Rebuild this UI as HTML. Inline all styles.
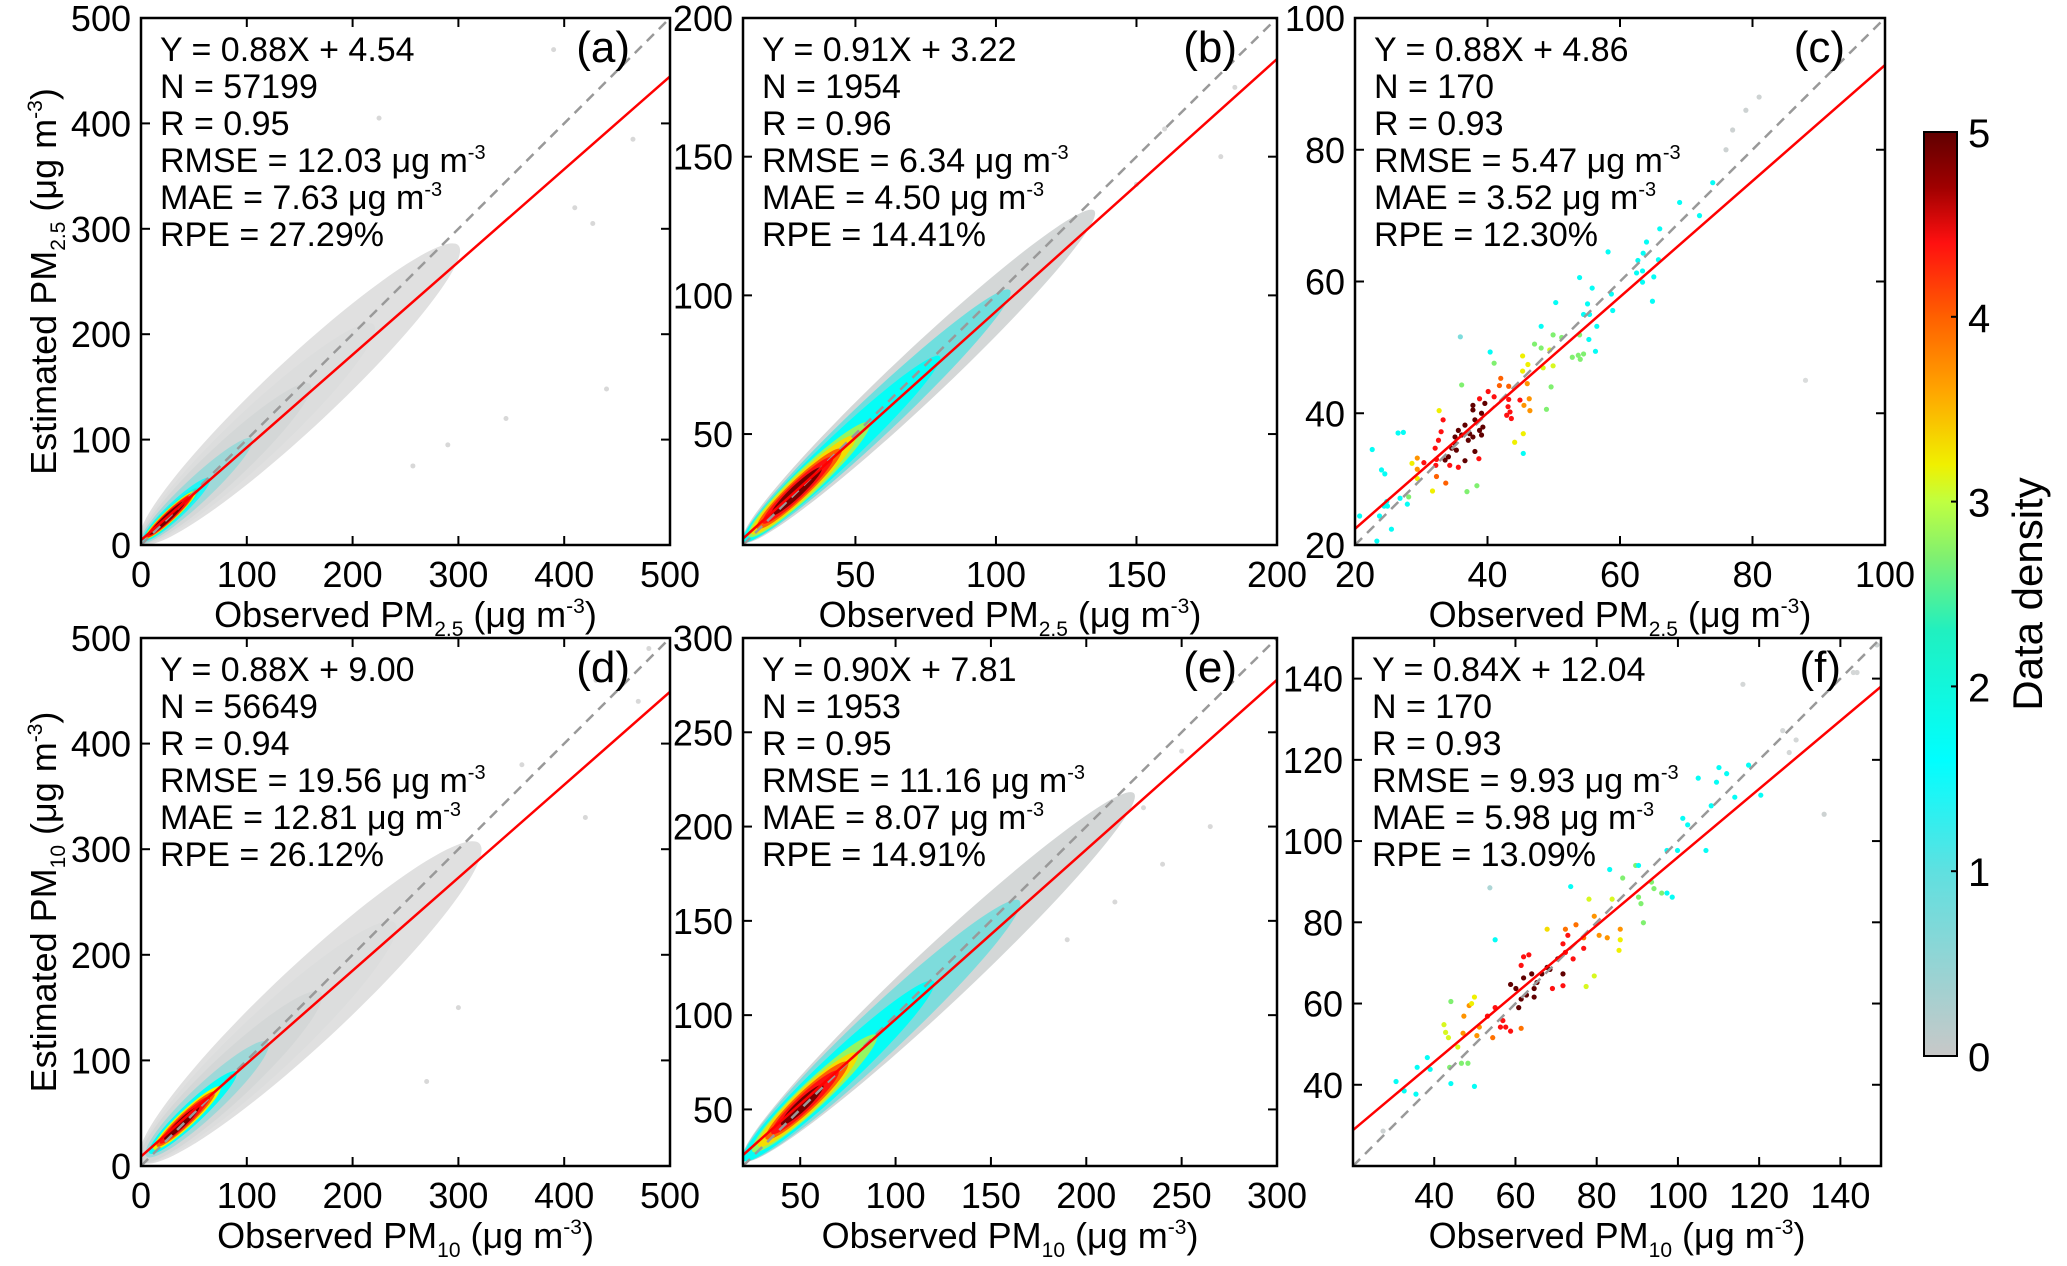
<!DOCTYPE html>
<html><head><meta charset="utf-8"><style>
html,body{margin:0;padding:0;background:#fff;}
svg{display:block;font-family:"Liberation Sans",Arial,sans-serif;}
</style></head><body>
<svg id="chart" width="2067" height="1266" viewBox="0 0 2067 1266" xmlns="http://www.w3.org/2000/svg">
<defs>
<linearGradient id="cbgrad" x1="0" y1="1" x2="0" y2="0">
<stop offset="0" stop-color="#c8c8c8"/><stop offset="0.2" stop-color="#5fe0e0"/><stop offset="0.32" stop-color="#00ffff"/>
<stop offset="0.46" stop-color="#20f0c0"/><stop offset="0.54" stop-color="#80f070"/><stop offset="0.6" stop-color="#c0ff40"/>
<stop offset="0.64" stop-color="#f0f000"/><stop offset="0.72" stop-color="#ffa500"/><stop offset="0.8" stop-color="#ff6000"/>
<stop offset="0.88" stop-color="#ff1010"/><stop offset="0.94" stop-color="#a00000"/><stop offset="1" stop-color="#600000"/>
</linearGradient>
</defs>
</svg>
<script>
// ---- data ----
const panelLabels = ['(a)','(b)','(c)','(d)','(e)','(f)'];
const xRanges = [[0,500],[10,200],[20,100],[0,500],[20,300],[20,150]];
const tickValsA = [0,100,200,300,400,500];
const tickValsB = [50,100,150,200];
const tickValsC = [20,40,60,80,100];
const tickValsE = [50,100,150,200,250,300];
const tickValsF = [40,60,80,100,120,140];
const slopes = [0.88,0.91,0.88,0.88,0.90,0.84];
const intercepts = [4.54,3.22,4.86,9.00,7.81,12.04];
const statsN = ['57199','1954','170','56649','1953','170'];
const statsR = ['0.95','0.96','0.93','0.94','0.95','0.93'];
const statsRMSE = ['12.03','6.34','5.47','19.56','11.16','9.93'];
const statsMAE = ['7.63','4.50','3.52','12.81','8.07','5.98'];
const statsRPE = ['27.29','14.41','12.30','26.12','14.91','13.09'];
// density bands: [xStart, xEnd, halfWidth, density]
const bandsA = [[0,300,32,0.02],[0,220,24,0.08],[0,160,18,0.2],[0,105,12,0.6],[2,65,8,1.4],[3,55,6.5,2.0],[4,52,5.5,3.2],[5,50,4.8,4.0],[6,48,4.2,4.4],[8,42,3.4,4.9]];
const bandsB = [[10,135,9,0.2],[10,105,7,0.9],[10,80,5.5,1.7],[12,55,4.6,2.8],[13,50,4.0,3.3],[15,45,3.4,4.0],[17,42,2.8,4.4],[20,38,2.1,4.9]];
const bandsD = [[0,320,36,0.02],[0,240,28,0.08],[0,170,21,0.2],[5,120,15,0.6],[8,90,10,1.7],[12,75,7.5,3.2],[15,70,6.2,4.0],[18,65,5,4.4],[22,55,3.8,4.9]];
const bandsE = [[20,225,15,0.2],[20,165,12,0.8],[20,120,9,1.7],[25,90,7,2.8],[28,80,6.2,3.3],[32,75,5.2,4.0],[35,70,4.2,4.4],[40,62,3,4.9]];
const outA = [[440,148],[390,470],[225,405],[465,385],[345,120],[290,95],[257,75],[427,305],[410,320]];
const outB = [[160,160],[185,175],[180,150],[150,140]];
const outD = [[430,460],[480,490],[470,440],[360,380],[420,330],[270,80],[300,150]];
const outE = [[250,240],[265,200],[230,210],[240,180],[215,160],[190,140]];
// panel c points: x, y, density
const cX = [35.1,36.1,36.6,37.3,37.8,38.1,38.8,39.3,39.1,34.6,35.3,34.1,36.6,38.1,37.1,35.6,37.8,37.8,39.1,39.6,35.1,33.6,
 33.0,32.1,32.6,32.3,34.3,35.6,38.7,40.1,41.0,38.8,43.1,43.4,43.6,42.9,43.2,44.9,33.3,32.2,30.4,
 42.0,41.8,43.2,46.0,45.5,46.3,46.4,29.4,29.4,32.3,33.7,
 45.3,46.1,45.3,48.4,49.9,49.4,32.7,45.4,44.1,28.6,31.7,29.4,
 41.0,36.1,47.1,48.1,49.9,51.2,52.8,53.7,54.0,54.5,53.9,49.6,48.9,36.9,38.4,28.1,
 48.1,50.3,53.9,55.1,55.8,54.5,55.4,55.3,56.5,56.3,58.7,58.9,63.4,63.4,62.5,65.1,64.9,65.8,62.7,63.5,58.2,40.4,45.4,26.5,27.3,22.6,24.0,24.5,24.8,24.4,24.9,26.8,27.9,23.7,20.7,25.5,23.3,66,64,69,72,74,
 35.9,77,79,81,76,88];
const cY = [36.4,36.7,38.2,36.9,36.4,39.0,37.4,37.9,36.7,34.7,34.4,33.4,32.8,34.2,35.9,37.4,41.2,40.5,40.0,41.5,35.4,32.9,
 37.2,34.7,35.9,33.0,32.1,31.8,33.1,43.3,42.5,42.2,41.0,40.2,39.2,39.7,42.1,42.0,39.0,32.1,32.5,
 45.3,44.2,44.1,44.5,41.2,42.2,40.4,33.2,31.5,30.4,29.4,
 46.4,47.4,48.7,46.9,47.2,49.6,40.4,36.9,35.6,32.4,28.2,30.1,
 47.6,44.3,50.5,49.9,51.9,51.5,48.5,48.8,48.2,49.0,51.9,44.0,40.6,28.1,29.0,27.3,
 53.2,56.8,60.6,56.6,59.0,55.0,55.0,51.2,53.2,49.4,58.1,55.6,61.6,59.9,61.3,60.7,57.0,63.3,63.2,64.3,64.5,49.3,33.9,37.0,37.1,34.5,31.4,30.8,26.6,25.9,25.9,27.1,26.2,24.4,24.4,22.4,20.6,68,66,72,70,75,
 51.6,83,86,88,80,45];
const cD = [5,5,5,5,5,5,5,5,5,5,5,5,5,5,5,5,5,5,5,5,5,5,
 4.4,4.4,4.4,4.4,4.4,4.4,4.4,4.4,4.4,4.4,4.4,4.4,4.4,4.4,4.4,4.4,4.4,4.4,4.4,
 4.0,4.0,4.0,3.7,3.7,3.7,3.7,3.7,3.7,4.0,4.0,
 3.2,3.2,3.2,3.1,3.1,3.1,3.2,3.2,3.2,3.2,3.2,3.2,
 2.7,2.7,2.7,2.7,2.7,2.7,2.7,2.7,2.7,2.7,2.7,2.7,2.7,2.7,2.7,2.7,
 1.7,1.7,1.7,1.7,1.7,1.7,1.7,1.7,1.7,1.7,1.7,1.7,1.7,1.7,1.7,1.7,1.7,1.7,1.7,1.7,1.7,1.7,1.7,1.7,1.7,1.7,1.7,1.7,1.7,1.7,1.7,1.7,1.7,1.7,1.7,1.7,1.7,1.7,1.7,1.7,1.7,1.7,
 0.8,0.3,0.3,0.3,0.3,0.1];
// panel f points
const fX = [58.8,60.1,61.4,62.7,64.6,65.3,64.0,62.0,66.5,68.5,70.4,71.7,60.8,64.6,67.8,
 56.9,57.6,56.3,58.8,61.4,62.0,63.3,71.7,72.3,72.9,74.2,69.1,71.7,76.8,53.1,55.0,
 72.3,74.9,76.8,79.4,80.6,82.6,85.8,51.1,54.4,61.4,47.3,50.5,47.1,48.6,
 49.2,49.9,67.8,78.1,83.8,85.8,85.5,79.4,77.4,42.4,43.5,45.8,42.8,
 86.4,89.6,90.3,90.9,91.5,94.1,96.0,93.5,44.1,43.8,46.7,48.3,
 83.2,90.3,97.3,98.6,97.3,99.9,101.2,102.4,105.0,106.9,108.2,109.5,110.1,112.0,114.0,117.4,120.4,49.9,55.0,73.6,30.6,35.8,38.3,39.0,44.1,32.6,35.5,
 53.7,136.0,144.1,143.2,125.8,127.4,129.1,116.0,27.4,149.0];
const fY = [64.7,63.7,61.1,62.1,63.7,65.2,67.3,66.3,67.3,68.4,71.0,67.3,59.0,61.6,68.9,
 55.8,54.2,54.2,53.2,69.4,71.5,72.0,74.7,72.6,76.8,71.0,63.7,64.4,73.6,56.9,59.0,
 78.3,79.4,76.2,81.5,76.8,76.2,78.3,54.2,51.6,53.9,56.9,52.1,52.7,59.5,
 60.0,61.6,78.3,85.7,85.7,75.7,73.1,66.8,64.2,54.8,51.6,49.3,52.9,
 90.9,94.0,86.2,84.6,79.9,88.3,87.2,89.9,60.5,44.3,45.3,45.3,
 93.0,94.0,87.2,86.2,97.7,97.7,105.6,104.0,115.5,97.7,108.7,114.5,118.1,116.6,110.8,118.7,111.3,39.6,75.7,88.8,40.8,44.3,46.7,43.8,40.3,38.5,37.7,
 88.5,106.6,141.5,141.5,127.2,121.8,124.9,138.6,28.6,148.3];
const fD = [5,5,5,5,5,5,5,5,5,5,5,5,5,5,5,
 4.4,4.4,4.4,4.4,4.4,4.4,4.4,4.4,4.4,4.4,4.4,4.4,4.4,4.4,4.4,4.4,
 3.9,3.9,3.9,3.7,3.7,3.7,3.7,3.7,3.9,3.9,3.7,3.7,3.7,3.7,
 3.2,3.2,3.3,3.1,3.1,3.2,3.2,3.1,3.1,3.1,3.1,3.1,3.1,
 2.7,2.7,2.7,2.7,2.7,2.7,2.7,2.7,2.7,2.7,2.7,2.7,
 1.7,1.7,1.7,1.7,1.7,1.7,1.7,1.7,1.7,1.7,1.7,1.7,1.7,1.7,1.7,1.7,1.7,1.7,1.7,1.7,1.7,1.7,1.7,1.7,1.7,1.7,1.7,
 0.5,0.3,0.2,0.2,0.2,0.2,0.2,0.2,0.3,0.3];
const cbTicks = [0,1,2,3,4,5];

// ---- layout ----
const NS='http://www.w3.org/2000/svg';
const svg=document.getElementById('chart');
const boxes=[[141,18,670,545],[743,18,1277,545],[1355,18,1885,545],[141,638,670,1166],[743,638,1277,1166],[1353,638,1881,1166]];
const ticksArr=[tickValsA,tickValsB,tickValsC,tickValsA,tickValsE,tickValsF];
const isPM10=[false,false,false,true,true,true];
function mk(tag,attrs,parent){const e=document.createElementNS(NS,tag);for(const k in attrs)e.setAttribute(k,attrs[k]);(parent||svg).appendChild(e);return e;}
function densColor(d){
  const stops=[[0,[225,225,225]],[0.3,[205,210,210]],[1,[95,224,224]],[1.6,[0,255,255]],[2.3,[32,240,192]],[2.7,[128,240,112]],[3,[192,255,64]],[3.2,[240,240,0]],[3.6,[255,165,0]],[4,[255,96,0]],[4.4,[255,16,16]],[4.7,[160,0,0]],[5,[96,0,0]]];
  for(let i=1;i<stops.length;i++){if(d<=stops[i][0]){const a=stops[i-1],b=stops[i],t=(d-a[0])/(b[0]-a[0]);const c=a[1].map((v,j)=>Math.round(v+(b[1][j]-v)*t));return 'rgb('+c.join(',')+')';}}
  return 'rgb(96,0,0)';
}
const bandsAll=[bandsA,bandsB,null,bandsD,bandsE,null];
const outAll=[outA,outB,null,outD,outE,null];
const lblStyle='font-size="21" dy="9"';

for(let p=0;p<6;p++){
  const [L,T,R,B]=boxes[p];const [mn,mx]=xRanges[p];
  const sx=v=>L+(v-mn)/(mx-mn)*(R-L);
  const sy=v=>B-(v-mn)/(mx-mn)*(B-T);
  const g=mk('g',{});
  
  
  const cp=mk('clipPath',{id:'clip'+p},g);mk('rect',{x:L,y:T,width:R-L,height:B-T},cp);
  const plot=mk('g',{'clip-path':'url(#clip'+p+')'},g);
  const m=slopes[p],b0=intercepts[p];
  const cy=x=>(x+(m*x+b0))/2;
  if(bandsAll[p]){
    outAll[p].forEach(pt=>{const c=mk('circle',{cx:sx(pt[0]),cy:sy(pt[1]),r:2.5,fill:'#d8d8d8'},plot);
      
      });
    bandsAll[p].forEach(bd=>{
      const x1=sx(bd[0]),y1=sy(cy(bd[0])),x2=sx(bd[1]),y2=sy(cy(bd[1]));
      const cxp=(x1+x2)/2,cyp=(y1+y2)/2,len=Math.hypot(x2-x1,y2-y1)/2;
      const ang=Math.atan2(y2-y1,x2-x1)*180/Math.PI;
      const ry=bd[2]/(mx-mn)*(R-L);
      const e=mk('ellipse',{cx:cxp,cy:cyp,rx:len,ry:ry,fill:densColor(bd[3]),transform:'rotate('+ang+' '+cxp+' '+cyp+')'},plot);
      
      
    });
  } else {
    const X=p===2?cX:fX,Y=p===2?cY:fY,D=p===2?cD:fD;
    for(let i=0;i<X.length;i++){
      const c=mk('circle',{cx:sx(X[i]),cy:sy(Y[i]),r:2.6,fill:densColor(D[i])},plot);
      
      
    }
  }
  const l1=mk('line',{x1:sx(mn),y1:sy(mn),x2:sx(mx),y2:sy(mx),stroke:'#999',"stroke-width":2.5,"stroke-dasharray":'10,7'},plot);
  
  
  const l2=mk('line',{x1:sx(mn),y1:sy(m*mn+b0),x2:sx(mx),y2:sy(m*mx+b0),stroke:'#ff0000',"stroke-width":2.5},plot);
  
  
  const fr=mk('rect',{x:L,y:T,width:R-L,height:B-T,fill:'none',stroke:'#000',"stroke-width":2.5},g);
  
  
  ticksArr[p].forEach(v=>{
    const X=sx(v),Y=sy(v);
    mk('line',{x1:X,y1:B,x2:X,y2:B-9,stroke:'#000',"stroke-width":2},g);
    mk('line',{x1:X,y1:T,x2:X,y2:T+9,stroke:'#000',"stroke-width":2},g);
    mk('line',{x1:L,y1:Y,x2:L+9,y2:Y,stroke:'#000',"stroke-width":2},g);
    mk('line',{x1:R,y1:Y,x2:R-9,y2:Y,stroke:'#000',"stroke-width":2},g);
    const tx=mk('text',{x:X,y:B+42,"font-size":36,"text-anchor":'middle'},g);tx.textContent=v;
    
    
    const ty=mk('text',{x:L-10,y:Y+13,"font-size":36,"text-anchor":'end'},g);ty.textContent=v;
    
    
  });
  const lines=['Y = '+slopes[p].toFixed(2)+'X + '+intercepts[p].toFixed(2),'N = '+statsN[p],'R = '+statsR[p],
    'RMSE = '+statsRMSE[p]+' μg m','MAE = '+statsMAE[p]+' μg m','RPE = '+statsRPE[p]+'%'];
  lines.forEach((s,i)=>{
    const t=mk('text',{x:L+19,y:T+43+i*37,"font-size":34},g);t.textContent=s;
    if(i===3||i===4){const ts=mk('tspan',{dy:-13,"font-size":20},t);ts.textContent='-3';}
    
    
  });
  const pl=mk('text',{x:R-40,y:T+44,"font-size":44,"text-anchor":'end'},g);pl.textContent=panelLabels[p];
  
  
  const sub=isPM10[p]?'10':'2.5';
  const xt=mk('text',{x:(L+R)/2,y:B+82,"font-size":36,"text-anchor":'middle'},g);
  xt.innerHTML='Observed PM<tspan '+lblStyle+'>'+sub+'</tspan><tspan dy="-9"> (μg m</tspan><tspan font-size="21" dy="-14">-3</tspan><tspan dy="14">)</tspan>';
  
  
  if(p===0||p===3){
    const cyc=(T+B)/2;
    const yt=mk('text',{x:0,y:0,"font-size":36,"text-anchor":'middle',transform:'translate(56 '+cyc+') rotate(-90)'},g);
    yt.innerHTML='Estimated PM<tspan '+lblStyle+'>'+sub+'</tspan><tspan dy="-9"> (μg m</tspan><tspan font-size="21" dy="-14">-3</tspan><tspan dy="14">)</tspan>';
    
    
  }
}
// colorbar
const cbg=mk('g',{});


const cbT=132,cbB=1056,cbL=1924,cbR=1957;
mk('rect',{x:cbL,y:cbT,width:cbR-cbL,height:cbB-cbT,fill:'url(#cbgrad)',stroke:'#000',"stroke-width":2},cbg);
cbTicks.forEach(v=>{
  const y=cbB-v/5*(cbB-cbT);
  mk('line',{x1:cbR,y1:y,x2:cbR-6,y2:y,stroke:'#000',"stroke-width":2},cbg);
  const t=mk('text',{x:1968,y:y+15,"font-size":40},cbg);t.textContent=v;
  
  
});
const dt=mk('text',{x:0,y:0,"font-size":42,"text-anchor":'middle',transform:'translate(2042 594) rotate(-90)'},cbg);
dt.textContent='Data density';


</script>
</body></html>
